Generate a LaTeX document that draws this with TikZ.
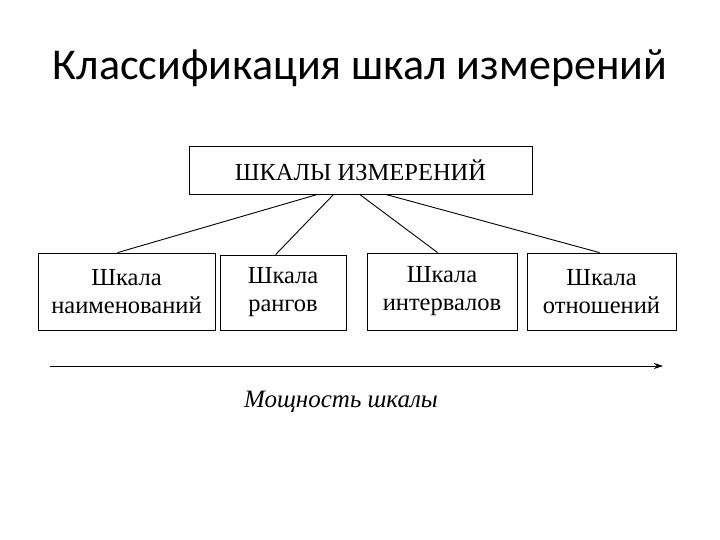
\documentclass[tikz,border=0pt]{standalone}
\usepackage{fontspec}
\setmainfont{Liberation Serif}
\newfontfamily\titlefont{Carlito}
\usetikzlibrary{arrows.meta}
\begin{document}
\begin{tikzpicture}[x=1pt,y=-1pt,
  box/.style={draw,line width=0.8pt,rectangle,inner sep=0pt,align=center,font=\fontsize{24.5}{28}\selectfont},
  link/.style={line width=0.9pt}]
\useasboundingbox (0,0) rectangle (720,540);
\node[font=\titlefont\fontsize{44}{50}\selectfont] (title) at (360,68) {Классификация шкал измерений};
\node[box,minimum width=343pt,minimum height=48pt] (top) at (360.5,170) {ШКАЛЫ ИЗМЕРЕНИЙ};
\node[box,minimum width=177pt,minimum height=77pt] (b1) at (126.5,291.5) {Шкала\\наименований};
\node[box,minimum width=126pt,minimum height=75pt] (b2) at (283,292.5) {Шкала\\рангов};
\node[box,minimum width=150pt,minimum height=77pt] (b3) at (442,291.5) {Шкала\\интервалов};
\node[box,minimum width=149pt,minimum height=77pt] (b4) at (601.5,291.5) {Шкала\\отношений};
\draw[link] ([xshift=129pt]top.south west) -- ([xshift=80pt]b1.north west);
\draw[link] ([xshift=145pt]top.south west) -- ([xshift=56pt]b2.north west);
\draw[link] ([xshift=171pt]top.south west) -- ([xshift=71pt]b3.north west);
\draw[link] ([xshift=197pt]top.south west) -- ([xshift=73pt]b4.north west);
\coordinate (a0) at (50,366);
\coordinate (a1) at (663,366);
\draw[line width=1pt,-{Stealth[length=9pt,width=6pt]}] (a0) -- (a1);
\node[font=\itshape\fontsize{25}{28}\selectfont] (lbl) at (341,402) {Мощность шкалы};
\end{tikzpicture}
\end{document}
